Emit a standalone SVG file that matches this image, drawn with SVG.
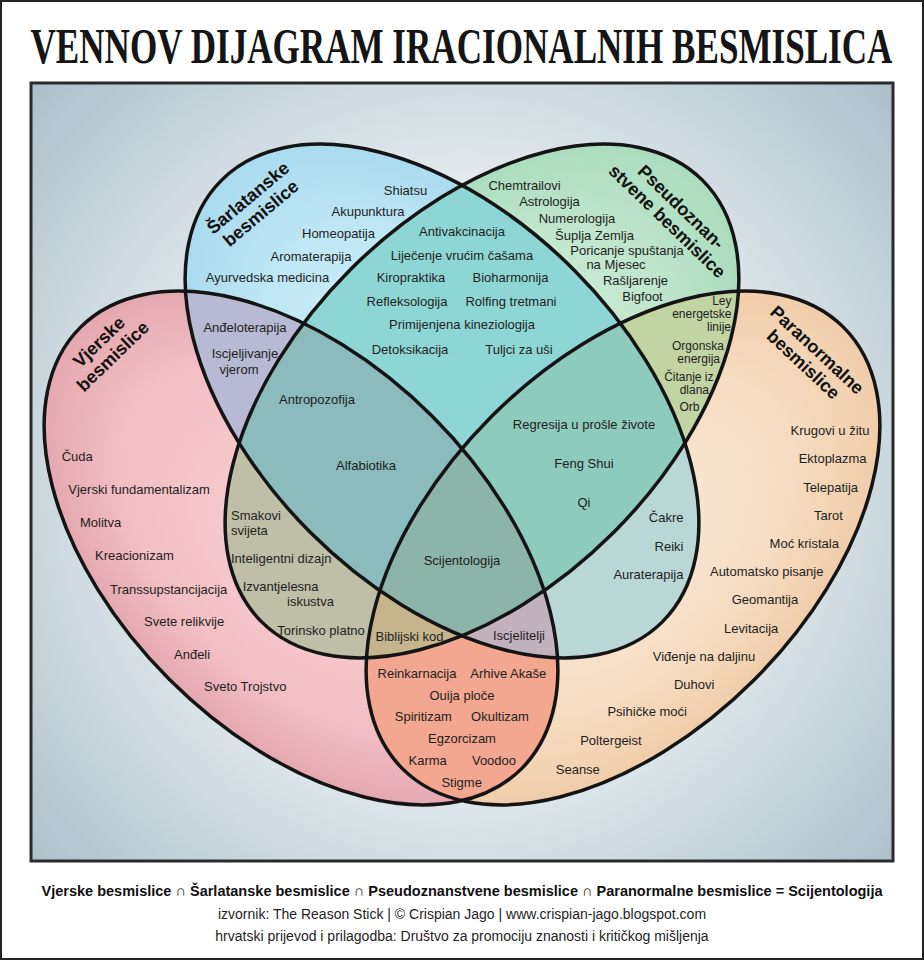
<svg xmlns="http://www.w3.org/2000/svg" xmlns:xlink="http://www.w3.org/1999/xlink" width="924" height="960" viewBox="0 0 924 960">
<style>
.t{font-family:'Liberation Sans',Arial,sans-serif;font-size:13px;fill:#1e1e1e}
.m{text-anchor:middle}
.e{text-anchor:end}
.s{font-size:12px}
.lab{font-family:'Liberation Sans',Arial,sans-serif;font-size:18px;font-weight:bold;fill:#111;text-anchor:middle}
.edge{fill:none;stroke:#141414;stroke-width:3.5}
</style>
<defs>
<radialGradient id="bg" gradientUnits="userSpaceOnUse" cx="462" cy="480" r="600">
<stop offset="0" stop-color="#ffffff"/><stop offset="0.35" stop-color="#f3f6f8"/><stop offset="0.7" stop-color="#cbd8de"/><stop offset="1" stop-color="#a9bdc8"/>
</radialGradient>
<radialGradient id="gP" cx="0.5" cy="0.5" r="0.55"><stop offset="0" stop-color="#f8d0d3"/><stop offset="0.65" stop-color="#f2bec3"/><stop offset="1" stop-color="#e0a0aa"/></radialGradient>
<radialGradient id="gB" cx="0.5" cy="0.5" r="0.55"><stop offset="0" stop-color="#d8f2fa"/><stop offset="0.6" stop-color="#c0e7f5"/><stop offset="1" stop-color="#a2d7ec"/></radialGradient>
<radialGradient id="gG" cx="0.5" cy="0.5" r="0.55"><stop offset="0" stop-color="#d6f0de"/><stop offset="0.6" stop-color="#c1e6ce"/><stop offset="1" stop-color="#a5d9b9"/></radialGradient>
<radialGradient id="gO" cx="0.5" cy="0.5" r="0.55"><stop offset="0" stop-color="#fbeada"/><stop offset="0.6" stop-color="#f6dcc2"/><stop offset="1" stop-color="#eec9a3"/></radialGradient>
<ellipse id="eP" cx="301" cy="548" rx="312" ry="186" transform="rotate(45 301 548)"/>
<ellipse id="eB" cx="442" cy="401" rx="312" ry="186" transform="rotate(45 442 401)"/>
<ellipse id="eG" cx="482" cy="401" rx="312" ry="186" transform="rotate(-45 482 401)"/>
<ellipse id="eO" cx="623" cy="548" rx="312" ry="186" transform="rotate(-45 623 548)"/>
<clipPath id="cP"><use href="#eP"/></clipPath>
<clipPath id="cB"><use href="#eB"/></clipPath>
<clipPath id="cG"><use href="#eG"/></clipPath>
<clipPath id="cO"><use href="#eO"/></clipPath>
</defs>
<rect x="0" y="0" width="924" height="960" fill="#ffffff"/>
<rect x="1" y="1" width="922" height="958" fill="none" stroke="#222" stroke-width="2"/>
<g id="title" transform="translate(30.5,63) scale(0.688,1)">
<text x="0" y="0" style="font-family:'Liberation Serif','DejaVu Serif',serif;font-size:51px;font-weight:bold;fill:#151515">VENNOV DIJAGRAM IRACIONALNIH BESMISLICA</text>
</g>
<rect id="panel" x="31" y="83" width="862" height="778" fill="url(#bg)" stroke="#2a2a2a" stroke-width="3"/>
<g id="fills">
<use href="#eP" fill="url(#gP)"/>
<use href="#eB" fill="url(#gB)"/>
<use href="#eG" fill="url(#gG)"/>
<use href="#eO" fill="url(#gO)"/>
<g clip-path="url(#cP)"><use href="#eB" fill="#b8b9d4"/><use href="#eG" fill="#bfbea6"/><use href="#eO" fill="#f3a690"/></g>
<g clip-path="url(#cB)"><use href="#eG" fill="#8ed6d5"/><use href="#eO" fill="#b9d7d5"/></g>
<g clip-path="url(#cG)"><use href="#eO" fill="#c3d4a4"/></g>
<g clip-path="url(#cP)"><g clip-path="url(#cB)"><use href="#eG" fill="#8bbbbc"/><use href="#eO" fill="#c2b2be"/></g></g>
<g clip-path="url(#cP)"><g clip-path="url(#cG)"><use href="#eO" fill="#c6b48d"/></g></g>
<g clip-path="url(#cB)"><g clip-path="url(#cG)"><use href="#eO" fill="#8dcbbc"/></g></g>
<g clip-path="url(#cP)"><g clip-path="url(#cB)"><g clip-path="url(#cG)"><use href="#eO" fill="#8cb4a8"/></g></g></g>
</g>
<g id="outlines">
<use href="#eP" class="edge"/>
<use href="#eB" class="edge"/>
<use href="#eG" class="edge"/>
<use href="#eO" class="edge"/>
</g>
<g id="set-vjerske">
<g transform="translate(99,342) rotate(-44)"><text class="lab" x="0" y="6">Vjerske</text><text class="lab" x="0" y="26">besmislice</text></g>
</g>
<g id="set-sarlatanske">
<g transform="translate(248,198) rotate(-40)"><text class="lab" x="0" y="6">Šarlatanske</text><text class="lab" x="0" y="26">besmislice</text></g>
</g>
<g id="set-pseudo">
<g transform="translate(681,207) rotate(44)"><text class="lab" x="0" y="6">Pseudoznan-</text><text class="lab" x="0" y="26">stvene besmislice</text></g>
</g>
<g id="set-paranormalne">
<g transform="translate(817,350) rotate(43)"><text class="lab" x="0" y="6">Paranormalne</text><text class="lab" x="0" y="26">besmislice</text></g>
</g>
<g id="r-B" class="t m">
<text x="405.5" y="194.5">Shiatsu</text>
<text x="368" y="216">Akupunktura</text>
<text x="338.5" y="237.5">Homeopatija</text>
<text x="311" y="260.5">Aromaterapija</text>
<text x="267.5" y="282">Ayurvedska medicina</text>
</g>
<g id="r-BG" class="t m">
<text x="462" y="236">Antivakcinacija</text>
<text x="462" y="259.5">Liječenje vrućim čašama</text>
<text x="411" y="282">Kiropraktika</text>
<text x="510.5" y="282">Bioharmonija</text>
<text x="407" y="306">Refleksologija</text>
<text x="511" y="306">Rolfing tretmani</text>
<text x="462" y="329">Primijenjena kineziologija</text>
<text x="410" y="353.5">Detoksikacija</text>
<text x="519" y="353.5">Tuljci za uši</text>
</g>
<g id="r-PB" class="t m">
<text x="245" y="332">Anđeloterapija</text>
<text x="245" y="357.5">Iscjeljivanje</text>
<text x="239" y="373.5">vjerom</text>
</g>
<g id="r-G" class="t m">
<text x="524.5" y="189.5">Chemtrailovi</text>
<text x="549.5" y="206">Astrologija</text>
<text x="577" y="222.5">Numerologija</text>
<text x="594.5" y="239.5">Šuplja Zemlja</text>
<text x="627" y="255">Poricanje spuštanja</text>
<text x="616" y="268.5">na Mjesec</text>
<text x="635.5" y="284.5">Rašljarenje</text>
<text x="642.5" y="301">Bigfoot</text>
</g>
<g id="r-GO" class="t e s">
<text x="731.5" y="305">Ley</text>
<text x="731.5" y="318.2">energetske</text>
<text x="731" y="331.4">linije</text>
<text x="724" y="349.5">Orgonska</text>
<text x="720" y="362.7">energija</text>
<text x="713.5" y="381">Čitanje iz</text>
<text x="709" y="394.2">dlana</text>
<text x="699.5" y="411">Orb</text>
</g>
<g id="r-P" class="t">
<text x="61.7" y="461">Čuda</text>
<text x="68.3" y="494">Vjerski fundamentalizam</text>
<text x="80" y="527">Molitva</text>
<text x="95" y="560">Kreacionizam</text>
<text x="110" y="593.5">Transsupstancijacija</text>
<text x="144" y="626">Svete relikvije</text>
<text x="174" y="658.5">Anđeli</text>
<text x="204" y="691">Sveto Trojstvo</text>
</g>
<g id="r-PG" class="t">
<text x="231" y="519.5">Smakovi</text>
<text x="231" y="534.5">svijeta</text>
<text x="231" y="563">Inteligentni dizajn</text>
<text x="242.7" y="590.5">Izvantjelesna</text>
<text x="287" y="606">iskustva</text>
<text x="277.3" y="634.5">Torinsko platno</text>
</g>
<g id="r-PBG" class="t m">
<text x="317" y="403.5">Antropozofija</text>
<text x="366" y="470">Alfabiotika</text>
</g>
<g id="r-BGO" class="t m">
<text x="584" y="429">Regresija u prošle živote</text>
<text x="584" y="468">Feng Shui</text>
<text x="584" y="507">Qi</text>
</g>
<g id="r-PBGO" class="t m">
<text x="462" y="564.5">Scijentologija</text>
</g>
<g id="r-BO" class="t e">
<text x="683.5" y="522">Čakre</text>
<text x="683.5" y="551">Reiki</text>
<text x="683.5" y="579">Auraterapija</text>
</g>
<g id="r-PGO" class="t m"><text x="409.5" y="641">Biblijski kod</text></g>
<g id="r-PBO" class="t m"><text x="519" y="640">Iscjelitelji</text></g>
<g id="r-PO" class="t m">
<text x="417" y="678">Reinkarnacija</text>
<text x="508.3" y="678">Arhive Akaše</text>
<text x="462" y="699.5">Ouija ploče</text>
<text x="423.3" y="721">Spiritizam</text>
<text x="500" y="721">Okultizam</text>
<text x="462" y="743">Egzorcizam</text>
<text x="427.7" y="765">Karma</text>
<text x="494" y="765">Voodoo</text>
<text x="461.7" y="787">Stigme</text>
</g>
<g id="r-O" class="t m">
<text x="830" y="435">Krugovi u žitu</text>
<text x="832.6" y="463">Ektoplazma</text>
<text x="830.6" y="492">Telepatija</text>
<text x="828.4" y="519.5">Tarot</text>
<text x="804.3" y="547.5">Moć kristala</text>
<text x="766.7" y="576">Automatsko pisanje</text>
<text x="765" y="604">Geomantija</text>
<text x="751.2" y="632.5">Levitacija</text>
<text x="704" y="660.5">Viđenje na daljinu</text>
<text x="694.2" y="688.5">Duhovi</text>
<text x="647.2" y="716">Psihičke moći</text>
<text x="610.9" y="745">Poltergeist</text>
<text x="577.8" y="773.5">Seanse</text>
</g>
<g id="footer">
<text x="462" y="896" textLength="841" lengthAdjust="spacingAndGlyphs" style="font-family:'Liberation Sans',Arial,sans-serif;font-size:15px;font-weight:bold;fill:#111;text-anchor:middle">Vjerske besmislice ∩ Šarlatanske besmislice ∩ Pseudoznanstvene besmislice ∩ Paranormalne besmislice = Scijentologija</text>
<text x="462" y="918.5" class="t m" style="font-size:14px">izvornik: The Reason Stick | © Crispian Jago | www.crispian-jago.blogspot.com</text>
<text x="462" y="940.5" class="t m" style="font-size:14px">hrvatski prijevod i prilagodba: Društvo za promociju znanosti i kritičkog mišljenja</text>
</g>
</svg>
